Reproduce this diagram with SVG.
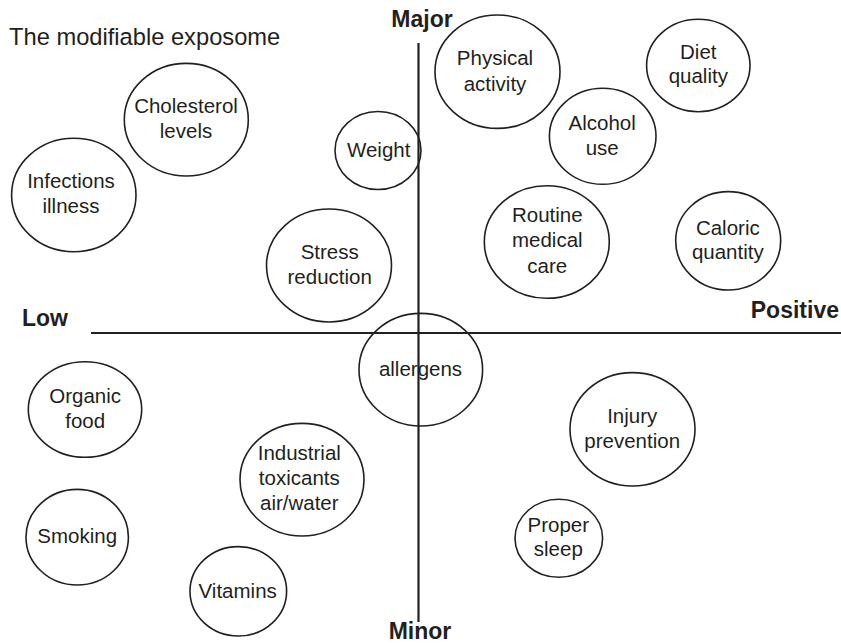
<svg xmlns="http://www.w3.org/2000/svg" width="841" height="644" viewBox="0 0 841 644">
<style>
.bg{fill:#ffffff}
.axis{stroke:#231f20;stroke-width:2.2;fill:none}
.node ellipse{fill:none;stroke:#231f20;stroke-width:1.6}
.lbl{font-family:"Liberation Sans",Arial,sans-serif;font-size:20.5px;fill:#231f20;text-anchor:middle}
.ax{font-family:"Liberation Sans",Arial,sans-serif;font-size:23px;font-weight:bold;fill:#231f20}
.title{font-family:"Liberation Sans",Arial,sans-serif;font-size:23.7px;fill:#231f20}
</style>
<rect class="bg" x="0" y="0" width="841" height="644"/>
<text class="title" x="9" y="45">The modifiable exposome</text>
<g id="connectors">
<line class="axis" x1="418.5" y1="43" x2="418.5" y2="622"/>
<line class="axis" x1="91" y1="333" x2="841" y2="333"/>
</g>
<text class="ax" x="422" y="27" text-anchor="middle">Major</text>
<text class="ax" x="420" y="639" text-anchor="middle">Minor</text>
<text class="ax" x="22" y="326">Low</text>
<text class="ax" x="839" y="318" text-anchor="end">Positive</text>
<g id="cholesterol" class="node"><ellipse cx="186.3" cy="119.7" rx="62" ry="56.3"/><text class="lbl" x="186" y="113">Cholesterol</text><text class="lbl" x="186" y="138">levels</text></g>
<g id="infections" class="node"><ellipse cx="73.8" cy="195" rx="62.2" ry="56.7"/><text class="lbl" x="71" y="188.3">Infections</text><text class="lbl" x="71" y="213.3">illness</text></g>
<g id="weight" class="node"><ellipse cx="378" cy="150.5" rx="43" ry="39"/><text class="lbl" x="378.7" y="156.7">Weight</text></g>
<g id="stress" class="node"><ellipse cx="329" cy="265.5" rx="62.5" ry="56.5"/><text class="lbl" x="329.7" y="259.3">Stress</text><text class="lbl" x="329.7" y="284.3">reduction</text></g>
<g id="physical" class="node"><ellipse cx="497.5" cy="71.7" rx="62.5" ry="56.7"/><text class="lbl" x="495" y="65">Physical</text><text class="lbl" x="495" y="90.5">activity</text></g>
<g id="diet" class="node"><ellipse cx="698.3" cy="65.5" rx="51.7" ry="46.2"/><text class="lbl" x="698.3" y="59.3">Diet</text><text class="lbl" x="698.3" y="82.5">quality</text></g>
<g id="alcohol" class="node"><ellipse cx="602.7" cy="136.3" rx="53.3" ry="48"/><text class="lbl" x="602.2" y="130">Alcohol</text><text class="lbl" x="602.2" y="155">use</text></g>
<g id="routine" class="node"><ellipse cx="546.8" cy="242" rx="62.5" ry="56.3"/><text class="lbl" x="547.3" y="221.7">Routine</text><text class="lbl" x="547.3" y="247.3">medical</text><text class="lbl" x="547.3" y="272.7">care</text></g>
<g id="caloric" class="node"><ellipse cx="728.2" cy="240.8" rx="52.5" ry="49.2"/><text class="lbl" x="727.8" y="235">Caloric</text><text class="lbl" x="727.8" y="259.3">quantity</text></g>
<g id="allergens" class="node"><ellipse cx="420.8" cy="369.7" rx="61.8" ry="56.3"/><text class="lbl" x="420.5" y="376">allergens</text></g>
<g id="organic" class="node"><ellipse cx="85" cy="409.5" rx="56.7" ry="47.8"/><text class="lbl" x="85.2" y="402.7">Organic</text><text class="lbl" x="85.2" y="428.3">food</text></g>
<g id="industrial" class="node"><ellipse cx="302" cy="479.7" rx="62" ry="56.3"/><text class="lbl" x="299.3" y="460">Industrial</text><text class="lbl" x="299.3" y="485">toxicants</text><text class="lbl" x="299.3" y="510">air/water</text></g>
<g id="smoking" class="node"><ellipse cx="77.2" cy="537.2" rx="51.2" ry="47.8"/><text class="lbl" x="77.2" y="543.3">Smoking</text></g>
<g id="vitamins" class="node"><ellipse cx="238.3" cy="591.3" rx="48.3" ry="44.7"/><text class="lbl" x="237.7" y="597.7">Vitamins</text></g>
<g id="injury" class="node"><ellipse cx="632.5" cy="429.3" rx="62.5" ry="56.7"/><text class="lbl" x="632.2" y="423.3">Injury</text><text class="lbl" x="632.2" y="448.3">prevention</text></g>
<g id="sleep" class="node"><ellipse cx="558.8" cy="538.3" rx="43.8" ry="39"/><text class="lbl" x="558.3" y="532.3">Proper</text><text class="lbl" x="558.3" y="556">sleep</text></g>
</svg>
